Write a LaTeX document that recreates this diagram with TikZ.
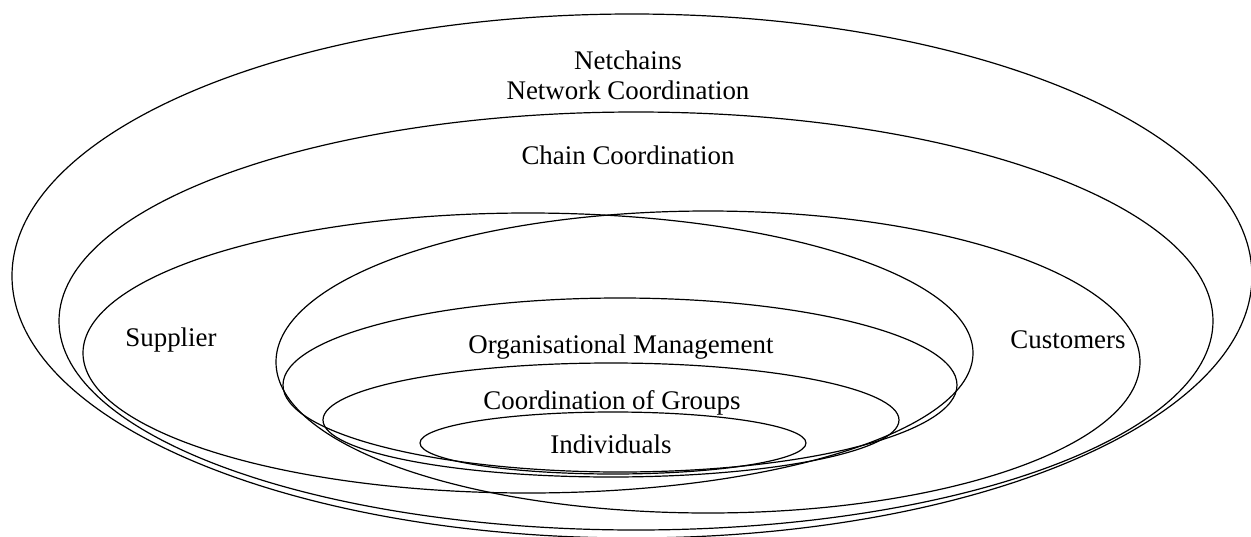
\documentclass[tikz,border=0pt]{standalone}
\usepackage{fontspec}
\setmainfont{Liberation Serif}
\tikzstyle{ring} = [line width=1.2pt]
\tikzstyle{tag} = [font=\fontsize{26.9}{30}\selectfont, inner sep=0pt, align=center]

\begin{document}
\begin{tikzpicture}[x=1pt,y=-1pt]
    \useasboundingbox (0,0) rectangle (1251,536);
    % rings, from the outside in
    \draw[ring] (632,276) ellipse [x radius=620, y radius=262];
    \draw[ring] (636,321) ellipse [x radius=577, y radius=209];
    \draw[ring] (528,353) ellipse [x radius=445, y radius=140];
    \draw[ring] (708,362) ellipse [x radius=432, y radius=151];
    \draw[ring] (620,385) ellipse [x radius=337, y radius=87];
    \draw[ring] (611,420) ellipse [x radius=288, y radius=57];
    \draw[ring] (613,443) ellipse [x radius=193, y radius=31];

    \node[tag] at (628,75) (net) {Netchains\\Network Coordination};
    \node[tag] at (628,155) (chain) {Chain Coordination};
    \node[tag] at (171,340) (sup) {Supplier};
    \node[tag] at (1068,340) (cust) {Customers};
    \node[tag] at (621,347) (org) {Organisational Management};
    \node[tag] at (612,403) (grp) {Coordination of Groups};
    \node[tag] at (611,444) (ind) {Individuals};
\end{tikzpicture}
\end{document}
